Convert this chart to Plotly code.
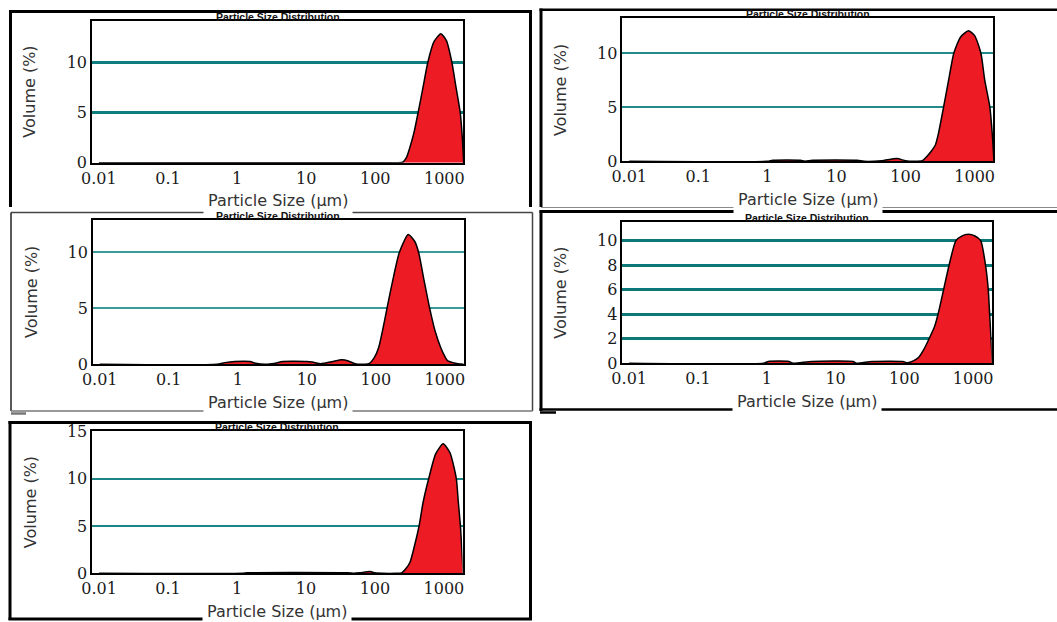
import plotly.graph_objects as go

W, H = 1057, 622

# ---------------- data ----------------
x_ticks = [0.01, 0.1, 1, 10, 100, 1000]
x_labels = ["0.01", "0.1", "1", "10", "100", "1000"]

# Panel A (top-left)
size_a = [0.01, 200, 251, 282, 316, 363, 417, 490, 575, 708, 891, 1072, 1288, 1479, 1698, 1820, 1905]
vol_a = [0, 0, 0.05, 0.5, 1.5, 3.0, 5.0, 7.5, 10.0, 12.1, 12.9, 12.2, 10.0, 7.5, 5.0, 2.5, 0]
y_ticks_a = [0, 5, 10]

# Panel B (top-right)
size_b = [0.01, 1.0, 1.2, 3.0, 3.5, 4.5, 20, 25, 45, 75, 100, 130, 175, 200, 240, 270, 300, 355,
          420, 500, 630, 813, 1000, 1230, 1400, 1660, 1800, 1905]
vol_b = [0, 0, 0.1, 0.1, 0, 0.1, 0.1, 0, 0.05, 0.25, 0.05, 0, 0.05, 0.4, 1.0, 1.5, 2.6, 5.0,
         7.5, 10.0, 11.5, 12.05, 11.6, 10.0, 7.5, 5.0, 2.5, 0]
y_ticks_b = [0, 5, 10]

# Panel C (middle-left)
size_c = [0.01, 0.5, 0.65, 0.9, 1.5, 1.8, 2.5, 3.5, 4.5, 10, 12, 16, 18, 24, 32, 40, 50, 63, 79,
          95, 110, 125, 145, 180, 219, 295, 365, 417, 500, 603, 720, 870, 1000, 1100, 1300, 1550, 1905]
vol_c = [0, 0, 0.15, 0.25, 0.25, 0.1, 0, 0.1, 0.25, 0.25, 0.2, 0.05, 0.1, 0.25, 0.4, 0.3, 0.05, 0, 0.05,
         0.6, 1.5, 3.0, 5.0, 7.8, 10.0, 11.6, 11.0, 10.0, 7.5, 5.0, 3.0, 1.5, 0.7, 0.3, 0.15, 0.05, 0]
y_ticks_c = [0, 5, 10]

# Panel D (middle-right)
size_d = [0.01, 0.9, 1.05, 2.1, 2.4, 4.5, 18, 20, 34, 95, 110, 135, 162, 195, 229, 275, 309, 372,
          447, 562, 692, 851, 1047, 1288, 1514, 1660, 1738, 1820, 1905]
vol_d = [0, 0, 0.15, 0.15, 0, 0.15, 0.15, 0, 0.15, 0.15, 0.05, 0.2, 0.5, 1.2, 2.0, 3.0, 4.0, 6.0,
         8.0, 10.0, 10.4, 10.52, 10.4, 10.0, 8.0, 6.0, 4.0, 2.0, 0]
y_ticks_d = [0, 2, 4, 6, 8, 10]

# Panel E (bottom-left)
size_e = [0.01, 1.2, 1.4, 40, 50, 60, 85, 100, 130, 200, 245, 282, 324, 372, 437, 500, 603, 760,
          977, 1230, 1514, 1620, 1738, 1820, 1905]
vol_e = [0, 0, 0.05, 0.05, 0, 0.05, 0.2, 0.05, 0, 0, 0.05, 0.5, 1.2, 2.8, 5.0, 7.5, 10.0, 12.6,
         13.67, 12.7, 10.0, 7.5, 5.0, 2.5, 0]
y_ticks_e = [0, 5, 10, 15]

chart_title = "Particle Size Distribution"
x_title = "Particle Size (µm)"
y_title = "Volume (%)"

# ---------------- layout helpers ----------------
def px(x):
    return x / W

def py(y):
    return 1 - y / H

# (sizes, volumes, yticks, ymax, plot box [l, t, r, b] in px, grid colour, grid width)
panels = [
    (size_a, vol_a, y_ticks_a, 14.2, (92, 20.7, 463, 162.7), "#0e7d7d", 3),
    (size_b, vol_b, y_ticks_b, 13.2, (622.3, 18.3, 993.3, 161.3), "#238a8a", 2),
    (size_c, vol_c, y_ticks_c, 12.9, (92.8, 220, 463.5, 364.3), "#3a9898", 1.6),
    (size_d, vol_d, y_ticks_d, 11.55, (622.3, 221.7, 991.7, 363.3), "#0c7878", 3),
    (size_e, vol_e, y_ticks_e, 15.05, (92.2, 430.7, 462.5, 573.3), "#1c8484", 2.2),
]

fig = go.Figure()
layout = dict(
    width=W, height=H,
    margin=dict(l=0, r=0, t=0, b=0, pad=0, autoexpand=False),
    paper_bgcolor="white", plot_bgcolor="white",
    showlegend=False,
)
annotations = []
shapes = []

tick_font = dict(family="DejaVu Serif", size=16, color="#1a1a1a")
lab_font = dict(family="DejaVu Sans", size=16, color="#333333")

for i, (sz, vol, yt, ymax, box, gcol, gw) in enumerate(panels):
    n = "" if i == 0 else str(i + 1)
    l, t, r, b = box
    fig.add_trace(go.Scatter(
        x=sz, y=vol, mode="lines",
        line=dict(color="black", width=1.5, shape="spline", smoothing=0.6),
        fill="tozeroy", fillcolor="#ED1C24",
        xaxis="x" + n, yaxis="y" + n, hoverinfo="skip",
    ))
    layout["xaxis" + n] = dict(
        type="log", range=[-2.1, 3.27], domain=[px(l), px(r)],
        anchor="y" + n, tickvals=x_ticks, ticktext=x_labels,
        showgrid=False, zeroline=False, showline=True, mirror=True,
        linecolor="black", linewidth=1.5, ticks="", tickfont=tick_font,
        automargin=False,
    )
    layout["yaxis" + n] = dict(
        range=[0, ymax], domain=[py(b), py(t)], anchor="x" + n,
        tickvals=yt, showgrid=True, gridcolor=gcol, gridwidth=gw,
        zeroline=False, showline=True, mirror=True, linecolor="black",
        linewidth=1.5, ticks="", tickfont=tick_font, automargin=False,
    )
    cx = (l + r) / 2
    cy = (t + b) / 2
    annotations.append(dict(
        text="<b>" + chart_title + "</b>", x=px(cx), y=py(t - 4), xref="paper", yref="paper",
        xanchor="center", yanchor="middle", showarrow=False,
        font=dict(family="Liberation Sans", size=10.5, color="#111111"),
    ))
    annotations.append(dict(
        text=x_title, x=px(cx), y=py(b + 38), xref="paper", yref="paper",
        xanchor="center", yanchor="middle", showarrow=False,
        font=lab_font, bgcolor="white", borderpad=4,
    ))
    annotations.append(dict(
        text=y_title, x=px(l - 62), y=py(cy), xref="paper", yref="paper",
        xanchor="center", yanchor="middle", showarrow=False, textangle=-90,
        font=lab_font,
    ))

def line(x0, y0, x1, y1, w, c="black"):
    shapes.append(dict(type="line", xref="paper", yref="paper",
                       x0=px(x0), y0=py(y0), x1=px(x1), y1=py(y1),
                       line=dict(color=c, width=w)))

# outer frames of the screenshots
line(10.5, 10, 10.5, 207, 3)
line(9, 11.5, 532, 11.5, 3)
line(530.5, 10, 530.5, 207, 3)

line(541, 8.5, 541, 207, 3)
line(539.5, 9.8, 1057, 9.8, 2.5)
line(541, 207.5, 1057, 207.5, 1, "#8a8a8a")

line(11, 212.5, 532.5, 212.5, 1.5, "#444444")
line(11, 212.5, 11, 411, 1.5, "#222222")
line(532.5, 212.5, 532.5, 411, 1.5, "#444444")
line(11, 411, 532.5, 411, 1.5, "#777777")
line(11, 413.5, 26, 413.5, 2.5, "#777777")

line(541, 210.5, 541, 411, 3)
line(539.5, 211.5, 1057, 211.5, 3)
line(539.5, 409.5, 1057, 409.5, 2.5)
line(540, 412.5, 556, 412.5, 2.5)

line(10, 421, 10, 620, 3)
line(8.5, 422.5, 532, 422.5, 3)
line(530.5, 421, 530.5, 620, 3)
line(8.5, 619, 532, 619, 3)

layout["annotations"] = annotations
layout["shapes"] = shapes
fig.update_layout(**layout)
fig.write_html(
    "out.html",
    config={"displayModeBar": False},
    post_script="document.body.style.margin='0';document.body.style.overflow='hidden';",
)
